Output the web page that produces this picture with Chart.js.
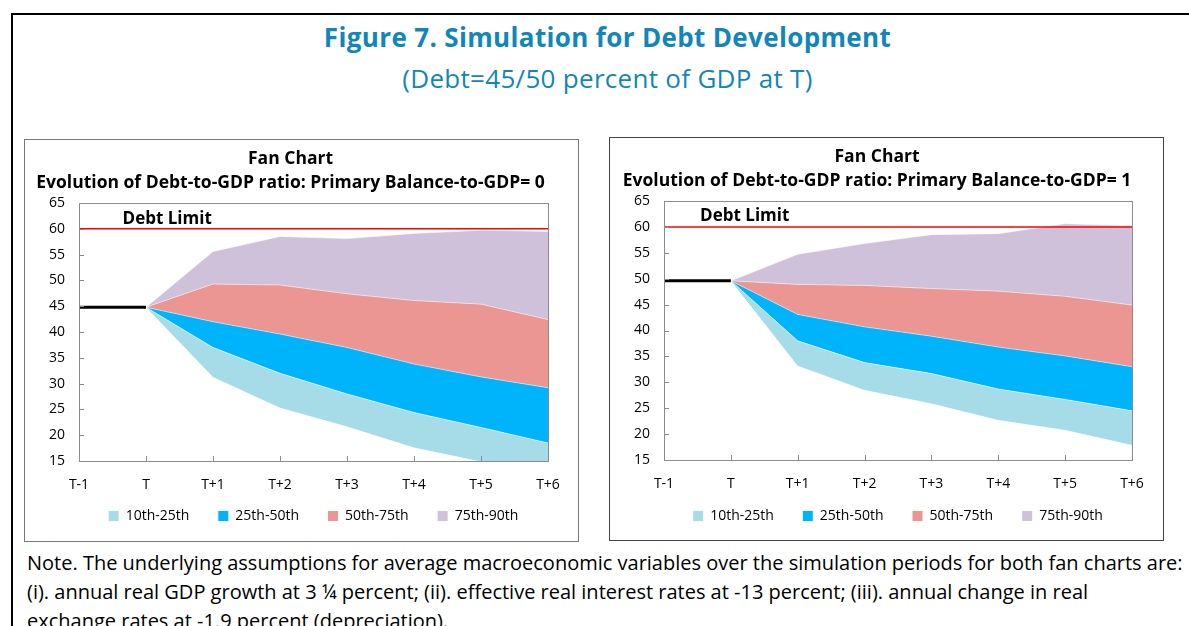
<!DOCTYPE html>
<html>
<head>
<meta charset="utf-8">
<title>Figure 7. Simulation for Debt Development</title>
<script src="https://cdn.jsdelivr.net/npm/chart.js@4.4.1/dist/chart.umd.min.js"></script>
<style>
  body { margin: 0; width: 1189px; height: 626px; overflow: hidden; position: relative; background: #fff; font-family: 'Open Sans', sans-serif; }
  .frameTop { position: absolute; left: 12px; top: 13px; width: 1177px; height: 2px; background: #000; }
  .frameLeft { position: absolute; left: 11px; top: 13px; width: 2px; height: 613px; background: #000; }
  #title { position: absolute; left: 0; width: 1215px; top: 20px; text-align: center; color: #1187b9; font-weight: 700; font-size: 26px; letter-spacing: 0.35px; line-height: 34px; }
  #subtitle { position: absolute; left: 0; width: 1215px; top: 61px; text-align: center; color: #1187b9; font-size: 26px; letter-spacing: 0.3px; line-height: 34px; }
  .box { position: absolute; border: 1px solid #777; }
  #boxL { left: 24px; top: 139px; width: 553px; height: 401px; }
  #boxR { left: 609px; top: 137px; width: 553px; height: 402px; border-color: #444; }
  canvas { display: block; }
  #note { position: absolute; left: 27px; top: 548px; font-size: 20px; line-height: 29px; white-space: nowrap; color: #000; }
</style>
</head>
<body>
<div class="frameTop"></div>
<div class="frameLeft"></div>
<div id="title">Figure 7. Simulation for Debt Development</div>
<div id="subtitle">(Debt=45/50 percent of GDP at T)</div>
<div class="box" id="boxL"><canvas id="chartL" width="553" height="401"></canvas></div>
<div class="box" id="boxR"><canvas id="chartR" width="553" height="402"></canvas></div>
<div id="note">Note. The underlying assumptions for average macroeconomic variables over the simulation periods for both fan charts are:<br>(i). annual real GDP growth at 3 ¼ percent; (ii). effective real interest rates at -13 percent; (iii). annual change in real<br>exchange rates at -1.9 percent (depreciation).</div>

<script>
const periods = ['T-1', 'T', 'T+1', 'T+2', 'T+3', 'T+4', 'T+5', 'T+6'];
const bandLabels = ['10th-25th', '25th-50th', '50th-75th', '75th-90th'];
const bandColors = ['#a6dce8', '#00b4fc', '#ec9694', '#cfc1da'];
const debtLimit = [60, 60, 60, 60, 60, 60, 60, 60];

// Primary balance = 0, debt 45 at T
const histL = [44.8, 44.8, null, null, null, null, null, null];
const p10L = [null, 44.8, 31.3, 25.3, 21.7, 17.6, 14.9, 12.5];
const p25L = [null, 44.8, 37.0, 32.0, 28.0, 24.4, 21.5, 18.5];
const p50L = [null, 44.8, 42.0, 39.6, 37.0, 33.8, 31.3, 29.2];
const p75L = [null, 44.8, 49.3, 49.1, 47.4, 46.1, 45.4, 42.4];
const p90L = [null, 44.8, 55.6, 58.5, 58.1, 59.1, 59.7, 59.5];

// Primary balance = 1, debt 50 at T
const histR = [49.6, 49.6, null, null, null, null, null, null];
const p10R = [null, 49.6, 33.2, 28.5, 25.9, 22.7, 20.8, 17.9];
const p25R = [null, 49.6, 38.0, 33.8, 31.7, 28.7, 26.7, 24.5];
const p50R = [null, 49.6, 43.1, 40.7, 38.9, 36.8, 35.1, 33.0];
const p75R = [null, 49.6, 48.9, 48.7, 48.1, 47.6, 46.6, 44.9];
const p90R = [null, 49.6, 54.7, 56.8, 58.5, 58.7, 60.6, 60.2];

Chart.defaults.font.family = "'Open Sans', sans-serif";
Chart.defaults.color = '#000';

// box around the plot area with short inward tick marks
const plotFrame = {
  id: 'plotFrame',
  afterLayout(chart) {
    // x axis is squeezed so the legend sits close; let its labels draw below anyway
    const x = chart.scales.x;
    x.bottom = x.top + 40;
  },
  afterDatasetsDraw(chart) {
    const { ctx, chartArea: a, scales: { x, y } } = chart;
    ctx.save();
    ctx.strokeStyle = '#8c8c8c';
    ctx.lineWidth = 1;
    ctx.strokeRect(Math.round(a.left) + 0.5, Math.round(a.top) + 0.5, Math.round(a.width), Math.round(a.height));
    ctx.beginPath();
    y.ticks.forEach((t, i) => {
      const py = Math.round(y.getPixelForTick(i)) + 0.5;
      ctx.moveTo(a.left, py);
      ctx.lineTo(a.left + 5, py);
    });
    x.ticks.forEach((t, i) => {
      const px = Math.round(x.getPixelForTick(i)) + 0.5;
      ctx.moveTo(px, a.bottom);
      ctx.lineTo(px, a.bottom - 5);
    });
    ctx.stroke();
    ctx.restore();
  }
};

// "Debt Limit" text, placed in data units
const limitLabel = {
  id: 'limitLabel',
  afterDatasetsDraw(chart, args, opts) {
    const { ctx, scales: { x, y } } = chart;
    ctx.save();
    ctx.font = "bold 17px 'Open Sans'";
    ctx.fillStyle = '#000';
    ctx.textBaseline = 'middle';
    ctx.fillText('Debt Limit', x.getPixelForValue(opts.at[0]), y.getPixelForValue(opts.at[1]));
    ctx.restore();
  }
};

function makeChart(id, pb, hist, pcts, lay) {
  const bands = pcts.slice(1).map((d, i) => ({
    label: bandLabels[i],
    data: d,
    fill: '-1',
    backgroundColor: bandColors[i],
    borderColor: 'rgba(255,255,255,0.5)',
    borderWidth: 1,
    pointRadius: 0
  }));

  return new Chart(document.getElementById(id), {
    type: 'line',
    data: {
      labels: periods,
      datasets: [
        { label: 'Debt Limit', data: debtLimit, borderColor: '#ff0000', borderWidth: 1.5, pointRadius: 0, fill: false },
        { label: 'Debt', data: hist, borderColor: '#000', borderWidth: 3, pointRadius: 0, fill: false },
        { label: '10th', data: pcts[0], borderColor: 'transparent', borderWidth: 0, pointRadius: 0, fill: false },
        ...bands
      ]
    },
    options: {
      responsive: false,
      animation: false,
      layout: { padding: lay.padding },
      plugins: {
        tooltip: { enabled: false },
        title: {
          display: true,
          text: ['Fan Chart', 'Evolution of Debt-to-GDP ratio: Primary Balance-to-GDP= ' + pb],
          color: '#000',
          font: { size: 17.5, weight: 'bold', lineHeight: 24 / 17.5 },
          padding: { top: 7, bottom: 8 }
        },
        legend: {
          position: 'bottom',
          fullSize: false,
          labels: {
            boxWidth: 10,
            boxHeight: 10,
            padding: 29,
            color: '#000',
            font: { size: 14 },
            generateLabels: chart => Chart.defaults.plugins.legend.labels.generateLabels(chart)
              .map(l => ({ ...l, lineWidth: 0, strokeStyle: 'transparent' })),
            filter: item => bandLabels.includes(item.text)
          }
        },
        limitLabel: { at: lay.labelAt }
      },
      scales: {
        x: {
          grid: { display: false, drawTicks: false },
          border: { display: false },
          ticks: { color: '#000', font: { size: 14 }, padding: 16, maxRotation: 0, autoSkip: false },
          afterFit: s => { s.height = lay.xh; }
        },
        y: {
          min: 15,
          max: 65,
          grid: { display: false, drawTicks: false },
          border: { display: false },
          ticks: { stepSize: 5, color: '#000', font: { size: 14 }, padding: 14 },
          afterFit: s => { s.width = lay.yw; }
        }
      }
    },
    plugins: [plotFrame, limitLabel]
  });
}

makeChart('chartL', 0, histL, [p10L, p25L, p50L, p75L, p90L],
  { padding: { left: 8, right: 30, top: 0, bottom: 8 }, yw: 46, xh: 19, labelAt: [0.65, 61.9] });
makeChart('chartR', 1, histR, [p10R, p25R, p50R, p75R, p90R],
  { padding: { left: 12, right: 31, top: 0, bottom: 7 }, yw: 42, xh: 20, labelAt: [0.54, 62.1] });
</script>
</body>
</html>
